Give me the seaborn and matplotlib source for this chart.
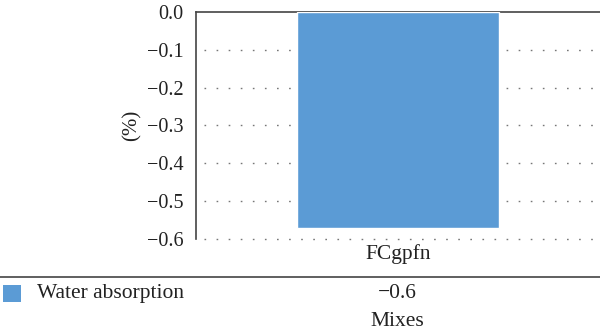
import matplotlib
matplotlib.use("Agg")
import matplotlib.pyplot as plt
import seaborn as sns
import pandas as pd
from matplotlib.lines import Line2D
from matplotlib.patches import Rectangle

# Data
mixes = ["FCgpfn"]
water_absorption = [-0.57]
table_labels = ["\u22120.6"]
yticks = [0.0, -0.1, -0.2, -0.3, -0.4, -0.5, -0.6]

df = pd.DataFrame({"Mix": mixes, "Water absorption": water_absorption})
bar_color = "#5B9BD5"
text_color = "#222222"

sns.set_style("white")
plt.rcParams["font.family"] = ["Liberation Serif", "DejaVu Serif"]
plt.rcParams["axes.unicode_minus"] = True

fig = plt.figure(figsize=(6, 3.36), dpi=100)
ax = fig.add_axes([0.327, 0.289, 0.673, 0.675])

# dotted grid lines, starting a little right of the spine
for v in yticks[1:]:
    ax.axhline(v, xmin=0.02, xmax=1, linestyle=(0, (1.2, 7.5)), color="#777777",
               linewidth=1, zorder=1, clip_on=False)

sns.barplot(data=df, x="Mix", y="Water absorption", color=bar_color,
            width=0.5, saturation=1, ax=ax, zorder=3)

ax.set_xlim(-0.5, 0.5)
ax.set_ylim(-0.6, 0.0)
ax.set_yticks(yticks)
ax.set_yticklabels([f"{v:.1f}".replace("-", "\u2212") for v in yticks])
ax.tick_params(axis="both", length=0, labelsize=14.5, colors=text_color, pad=9)
ax.set_xlabel("")
ax.set_xticks([])
ax.set_ylabel("(%)", fontsize=15, color=text_color, labelpad=4)

for side in ["right", "bottom"]:
    ax.spines[side].set_visible(False)
for side in ["left", "top"]:
    ax.spines[side].set_color("#444444")
    ax.spines[side].set_linewidth(1.2)

# category label under the axes
fig.text(0.663, 0.243, mixes[0], ha="center", va="center", fontsize=15.5, color=text_color)

# data table under the chart
fig.add_artist(Line2D([0, 1], [0.176, 0.176], color="#444444", linewidth=1.2))
fig.patches.append(Rectangle((0.005, 0.101), 0.03, 0.051, facecolor=bar_color,
                             edgecolor="none", transform=fig.transFigure, figure=fig))
fig.text(0.062, 0.126, "Water absorption", ha="left", va="center", fontsize=15.5, color=text_color)
fig.text(0.663, 0.126, table_labels[0], ha="center", va="center", fontsize=15.5, color=text_color)
fig.text(0.663, 0.042, "Mixes", ha="center", va="center", fontsize=15.5, color=text_color)

fig.savefig("out.png", dpi=100)
